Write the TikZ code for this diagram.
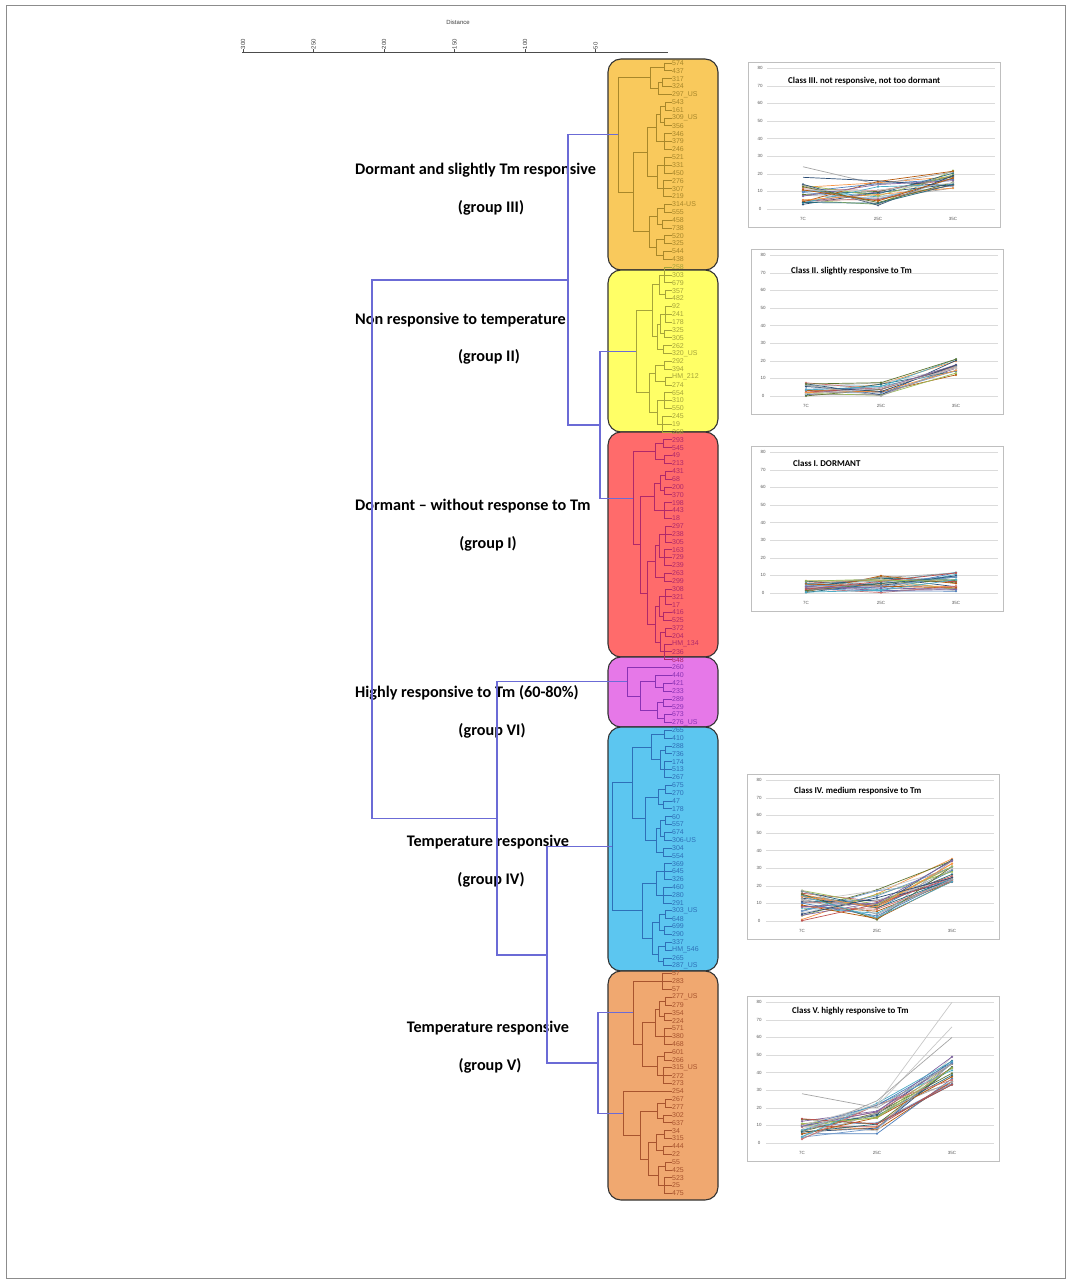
\documentclass[tikz,border=0pt]{standalone}
\usepackage{fontspec}
\setmainfont{Carlito}
\newfontfamily\arialf{Liberation Sans}
\usetikzlibrary{calc}
\definecolor{fIII}{HTML}{F9C95C}
\definecolor{fII}{HTML}{FFFF66}
\definecolor{fI}{HTML}{FF6B6B}
\definecolor{fVI}{HTML}{E678E8}
\definecolor{fIV}{HTML}{5CC6F0}
\definecolor{fV}{HTML}{F0A870}
\definecolor{tIII}{HTML}{A8872A}
\definecolor{tII}{HTML}{A6A43A}
\definecolor{tI}{HTML}{B0286A}
\definecolor{tVI}{HTML}{8A32B4}
\definecolor{tIV}{HTML}{2E70B8}
\definecolor{tV}{HTML}{A8542E}
\definecolor{skelc}{HTML}{6B6BD6}
\definecolor{xc0}{HTML}{4F81BD}
\definecolor{xc1}{HTML}{C0504D}
\definecolor{xc2}{HTML}{9BBB59}
\definecolor{xc3}{HTML}{8064A2}
\definecolor{xc4}{HTML}{4BACC6}
\definecolor{xc5}{HTML}{F79646}
\definecolor{xc6}{HTML}{2C4D75}
\definecolor{xc7}{HTML}{A5A5A5}
\definecolor{xc8}{HTML}{5F7530}
\definecolor{xc9}{HTML}{C8C8C8}
\definecolor{xc10}{HTML}{276A7C}
\definecolor{xc11}{HTML}{B65708}
\definecolor{xc12}{HTML}{729ACA}
\definecolor{xc13}{HTML}{CD7371}
% comb of leaves i..j joined at x
\newcommand\comb[4]{%
  \foreach \k in {#3,...,#4} {\draw (L\k.west) -- (#2,{63+7.85*\k});}
  \draw (#2,{63+7.85*#3}) -- (#2,{63+7.85*#4});
  \coordinate (#1) at (#2,{63+7.85*(#3+#4)/2});
}
% binary merge of two children at x
\newcommand\mrg[4]{%
  \path let \p1=(#3), \p2=(#4) in coordinate (#1) at (#2pt,{(\y1+\y2)/2});
  \draw (#3) -- (#3 -| #1) -- (#4 -| #1) -- (#4);
}
\newcommand\chartbox[5]{%
  \begin{scope}[shift={(#2,#3)}]
    \draw[chartborder] (0,0) rectangle (252,165);
    \foreach \v in {0,10,...,80} {
      \draw[chartgrid] (19,{147-1.76*\v}) -- (247,{147-1.76*\v});
      \node[ylab] (#1y\v) at (12,{147-1.76*\v}) {\v};
    }
    \node[ylab] (#1xa) at (55,157) {7C};
    \node[ylab] (#1xb) at (130,157) {25C};
    \node[ylab] (#1xc) at (205,157) {35C};
    \node[ctitle] (#1t) at #4 {#5};
  \end{scope}
}
\newcommand\clines[8]{%
  \foreach \k in {1,...,#2} {
    \pgfmathsetmacro\ra{frac(abs(sin(\k*127.1+#1*311.7))*437.585)}
    \pgfmathsetmacro\rb{frac(abs(sin(\k*269.5+#1*183.3))*437.585)}
    \pgfmathsetmacro\rc{frac(abs(sin(\k*419.2+#1*371.9))*437.585)}
    \pgfmathsetmacro\va{147-1.76*(#3+\ra*(#4-#3))}
    \pgfmathsetmacro\vb{147-1.76*(#5+\rb*(#6-#5))}
    \pgfmathsetmacro\vc{147-1.76*(#7+\rc*(#8-#7))}
    \pgfmathtruncatemacro\ci{mod(\k+#1,14)}
    \draw[cl, xc\ci] (55,\va) -- (130,\vb) -- (205,\vc);
    \fill[xc\ci] (55,\va) circle (1.2) (130,\vb) circle (1.2) (205,\vc) circle (1.2);
  }
}
\begin{document}
\begin{tikzpicture}[x=1pt,y=-1pt,
  grpbox/.style={draw=black!80, line width=1.1pt, rounded corners=13pt},
  leafl/.style={font=\arialf\fontsize{7}{7}\selectfont, anchor=west, inner sep=0pt},
  grp/.style={font=\fontsize{16.2}{18}\selectfont\bfseries, inner sep=1pt},
  skel/.style={draw=skelc, line width=1.2pt},
  chartborder/.style={draw=black!25, line width=0.6pt},
  chartgrid/.style={draw=black!14, line width=0.5pt},
  ylab/.style={font=\arialf\fontsize{4.5}{5}\selectfont, text=black!65, inner sep=0pt},
  ctitle/.style={font=\fontsize{8.9}{9}\selectfont\bfseries, anchor=west, inner sep=0pt},
  cl/.style={line width=0.7pt, line join=round},
  axl/.style={font=\arialf\fontsize{6}{6}\selectfont, text=black!75, inner sep=0.5pt}]
\useasboundingbox (0,0) rectangle (1072,1284);
\fill[white] (0,0) rectangle (1072,1284);
\draw[black!45, line width=0.8pt] (6.5,5.5) rectangle (1065.5,1278.5);

% axis
\node[axl] (dist) at (458,22) {Distance};
\draw[black!70, line width=0.8pt] (242,52) -- (668,52);
\foreach \v/\x in {300/243,250/313.5,200/384,150/454.5,100/525,50/595.5} {
  \draw[black!70, line width=0.7pt] (\x,49) -- (\x,52);
  \node[axl, rotate=90, anchor=west] (ax\v) at (\x,50) {\v};
}

% group boxes
\draw[grpbox, fill=fIII] (608,59) rectangle (718,270);
\draw[grpbox, fill=fII] (608,270) rectangle (718,432);
\draw[grpbox, fill=fI] (608,432) rectangle (718,657);
\draw[grpbox, fill=fVI] (608,657) rectangle (718,727);
\draw[grpbox, fill=fIV] (608,727) rectangle (718,971);
\draw[grpbox, fill=fV] (608,971) rectangle (718,1200);

% leaf labels
\foreach \t [count=\n from 0] in {574,437,317,324,297\_US,543,161,309\_US,356,346,379,246,521,331,450,276,307,219,314-US,555,458,738,520,325,544,438} {
  \node[leafl, text=tIII] (L\n) at (672,{63+7.85*\n}) {\t};}
\foreach \t [count=\n from 26] in {258,303,679,357,482,92,241,178,325,305,262,320\_US,292,394,HM\_212,274,654,310,550,245,19,268} {
  \node[leafl, text=tII] (L\n) at (672,{63+7.85*\n}) {\t};}
\foreach \t [count=\n from 48] in {293,545,49,213,431,68,200,370,198,443,18,297,238,305,163,729,239,263,299,308,321,17,416,525,372,204,HM\_134,236,648} {
  \node[leafl, text=tI] (L\n) at (672,{63+7.85*\n}) {\t};}
\foreach \t [count=\n from 77] in {260,440,421,233,289,529,673,276\_US} {
  \node[leafl, text=tVI] (L\n) at (672,{63+7.85*\n}) {\t};}
\foreach \t [count=\n from 85] in {265,410,288,736,174,513,267,675,270,47,178,60,557,674,306-US,304,554,369,645,326,460,280,291,303\_US,648,699,290,337,HM\_546,265,287\_US} {
  \node[leafl, text=tIV] (L\n) at (672,{63+7.85*\n}) {\t};}
\foreach \t [count=\n from 116] in {57,283,57,277\_US,279,354,224,571,380,468,601,266,315\_US,272,273,254,267,277,302,637,34,315,444,22,55,425,523,25,475} {
  \node[leafl, text=tV] (L\n) at (672,{63+7.85*\n}) {\t};}

% group III tree
\begin{scope}[tIII, line width=0.7pt]
\comb{a1}{664}{0}{1} \comb{a2}{662}{2}{3} \mrg{a3}{658}{a2}{L4.west} \mrg{a4}{650}{a1}{a3}
\comb{a5}{665}{5}{6} \comb{a6}{664}{7}{8} \mrg{a7}{660}{a5}{a6} \comb{a8}{664}{9}{11} \mrg{a9}{656}{a7}{a8}
\comb{a10}{664}{12}{14} \comb{a11}{663}{15}{17} \mrg{a12}{657}{a10}{a11} \mrg{a13}{647}{a9}{a12}
\comb{a14}{664}{18}{19} \comb{a15}{662}{20}{21} \mrg{a16}{657}{a14}{a15}
\comb{a17}{664}{22}{23} \comb{a18}{663}{24}{25} \mrg{a19}{656}{a17}{a18} \mrg{a20}{649}{a16}{a19}
\mrg{a21}{633}{a13}{a20} \mrg{a22}{618}{a4}{a21}
\end{scope}
% group II tree
\begin{scope}[tII, line width=0.7pt]
\comb{b1}{664}{26}{28} \comb{b2}{665}{29}{30} \mrg{b3}{659}{b1}{b2}
\comb{b4}{665}{31}{33} \comb{b5}{664}{34}{35} \mrg{b6}{660}{b4}{b5} \comb{b7}{663}{36}{37} \mrg{b8}{657}{b6}{b7} \mrg{b9}{652}{b3}{b8}
\comb{b10}{664}{38}{39} \comb{b11}{665}{40}{41} \mrg{b12}{655}{b10}{b11}
\comb{b13}{664}{42}{44} \comb{b14}{662}{45}{47} \mrg{b15}{657}{b13}{b14} \mrg{b16}{649}{b12}{b15}
\mrg{b17}{636}{b9}{b16}
\end{scope}
% group I tree
\begin{scope}[tI, line width=0.7pt]
\comb{c1}{663}{48}{49} \comb{c2}{664}{50}{51} \mrg{c3}{655}{c1}{c2}
\comb{c4}{665}{52}{53} \comb{c5}{664}{54}{55} \mrg{c6}{660}{c4}{c5} \comb{c7}{664}{56}{58} \mrg{c8}{654}{c6}{c7}
\comb{c9}{665}{59}{61} \comb{c10}{664}{62}{64} \mrg{c11}{659}{c9}{c10} \comb{c12}{664}{65}{66} \mrg{c13}{655}{c11}{c12}
\comb{c14}{665}{67}{69} \comb{c15}{663}{70}{71} \mrg{c16}{659}{c14}{c15}
\comb{c17}{665}{72}{73} \comb{c18}{664}{74}{76} \mrg{c19}{660}{c17}{c18} \mrg{c20}{655}{c16}{c19}
\mrg{c21}{647}{c13}{c20} \mrg{c22}{640}{c8}{c21} \mrg{c23}{633}{c3}{c22}
\end{scope}
% group VI tree
\begin{scope}[tVI, line width=0.7pt]
\comb{d1}{663}{79}{80} \mrg{d2}{655}{L78.west}{d1}
\comb{d3}{663}{81}{82} \comb{d4}{664}{83}{84} \mrg{d5}{657}{d3}{d4}
\mrg{d6}{640}{d2}{d5} \mrg{d7}{627}{L77.west}{d6}
\end{scope}
% group IV tree
\begin{scope}[tIV, line width=0.7pt]
\comb{e1}{664}{85}{86} \comb{e2}{665}{87}{88} \comb{e3}{664}{89}{91} \mrg{e4}{660}{e2}{e3} \mrg{e5}{651}{e1}{e4}
\comb{e6}{665}{92}{93} \comb{e7}{663}{94}{95} \mrg{e8}{658}{e6}{e7}
\comb{e9}{665}{96}{97} \comb{e10}{664}{98}{99} \mrg{e11}{660}{e9}{e10} \comb{e12}{663}{100}{101} \mrg{e13}{656}{e11}{e12}
\mrg{e14}{645}{e8}{e13} \mrg{e15}{632}{e5}{e14}
\comb{e16}{664}{102}{104} \comb{e17}{663}{105}{107} \mrg{e18}{656}{e16}{e17}
\comb{e19}{665}{108}{109} \comb{e20}{664}{110}{111} \mrg{e21}{659}{e19}{e20}
\comb{e22}{665}{112}{113} \comb{e23}{663}{114}{115} \mrg{e24}{658}{e22}{e23} \mrg{e25}{652}{e21}{e24}
\mrg{e26}{642}{e18}{e25} \mrg{e27}{612}{e15}{e26}
\end{scope}
% group V tree
\begin{scope}[tV, line width=0.7pt]
\comb{f1}{662}{116}{118}
\comb{f2}{665}{119}{120} \comb{f3}{664}{121}{122} \mrg{f4}{659}{f2}{f3} \comb{f5}{664}{123}{125} \mrg{f6}{655}{f4}{f5}
\comb{f7}{664}{126}{127} \comb{f8}{663}{128}{130} \mrg{f9}{657}{f7}{f8} \mrg{f10}{642}{f6}{f9}
\mrg{f11}{633}{f1}{f10}
\comb{f12}{665}{132}{133} \comb{f13}{663}{134}{135} \mrg{f14}{657}{f12}{f13}
\comb{f15}{664}{136}{137} \comb{f16}{663}{138}{139} \mrg{f17}{656}{f15}{f16}
\comb{f18}{665}{140}{141} \comb{f19}{664}{142}{144} \mrg{f20}{658}{f18}{f19} \mrg{f21}{648}{f17}{f20}
\mrg{f22}{640}{f14}{f21} \mrg{f23}{623}{L131.west}{f22}
\end{scope}

% group texts
\node[grp, anchor=west] (g3a) at (354,170) {Dormant and slightly Tm responsive};
\node[grp] (g3b) at (491,208) {(group III)};
\node[grp, anchor=west] (g2a) at (354,320) {Non responsive to temperature};
\node[grp] (g2b) at (489,357) {(group II)};
\node[grp, anchor=west] (g1a) at (354,506) {Dormant – without response to Tm};
\node[grp] (g1b) at (488,544) {(group I)};
\node[grp, anchor=west] (g6a) at (354,693) {Highly responsive to Tm (60-80\%)};
\node[grp] (g6b) at (492,731) {(group VI)};
\node[grp] (g4a) at (488,842) {Temperature responsive};
\node[grp] (g4b) at (491,880) {(group IV)};
\node[grp] (g5a) at (488,1028) {Temperature responsive};
\node[grp] (g5b) at (490,1066) {(group V)};

% skeleton joining the groups
\begin{scope}[skel]
\mrg{p1}{600}{b17}{c23}
\mrg{p2}{568}{a22}{p1}
\mrg{p3}{598}{f11}{f23}
\mrg{p4}{547}{e27}{p3}
\mrg{p5}{497}{d7}{p4}
\mrg{p6}{372}{p2}{p5}
\end{scope}

% charts
\chartbox{ch1}{748}{62}{(40,19)}{Class III. not responsive, not too dormant}
\begin{scope}[shift={(748,62)}]
\clines{1}{24}{2}{15}{2}{16}{11}{22}
\draw[cl, xc7] (55,{147-1.76*24}) -- (130,{147-1.76*14}) -- (205,{147-1.76*21});
\draw[cl, xc6] (55,{147-1.76*18}) -- (130,{147-1.76*16}) -- (205,{147-1.76*13});
\end{scope}
\chartbox{ch2}{751}{249}{(40,22)}{Class II. slightly responsive to Tm}
\begin{scope}[shift={(751,249)}]
\clines{2}{21}{0}{8}{0}{8}{12}{24}
\end{scope}
\chartbox{ch3}{751}{446}{(42,17)}{Class I. DORMANT}
\begin{scope}[shift={(751,446)}]
\clines{3}{29}{0}{7}{0}{10}{1}{12}
\end{scope}
\chartbox{ch4}{747}{774}{(47,17)}{Class IV. medium responsive to Tm}
\begin{scope}[shift={(747,774)}]
\clines{4}{31}{0}{18}{0}{18}{22}{37}
\end{scope}
\chartbox{ch5}{747}{996}{(45,15)}{Class V. highly  responsive to Tm}
\begin{scope}[shift={(747,996)}]
\clines{5}{27}{1}{14}{5}{23}{33}{50}
\draw[cl, xc7] (55,{147-1.76*28}) -- (130,{147-1.76*20}) -- (205,{147-1.76*45});
\draw[cl, xc9] (55,{147-1.76*10}) -- (130,{147-1.76*22}) -- (205,{147-1.76*80});
\draw[cl, xc9] (55,{147-1.76*8}) -- (130,{147-1.76*21}) -- (205,{147-1.76*66});
\draw[cl, xc7] (55,{147-1.76*6}) -- (130,{147-1.76*24}) -- (205,{147-1.76*60});
\end{scope}
\end{tikzpicture}
\end{document}
